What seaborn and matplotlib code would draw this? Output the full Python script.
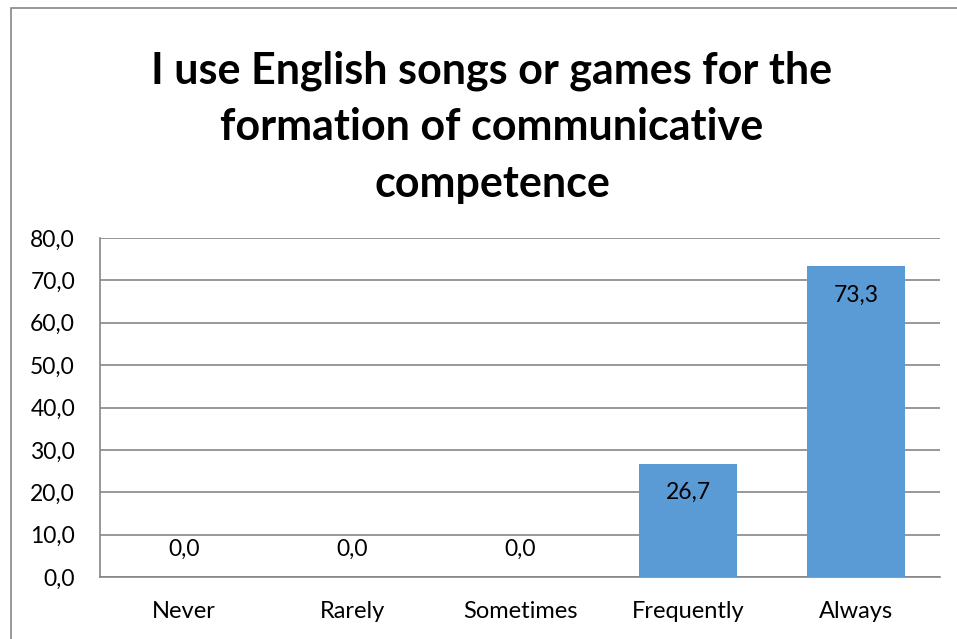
import matplotlib
matplotlib.use("Agg")
import matplotlib.pyplot as plt
import seaborn as sns
import pandas as pd
from matplotlib.patches import Rectangle

categories = ["Never", "Rarely", "Sometimes", "Frequently", "Always"]
values = [0.0, 0.0, 0.0, 26.7, 73.3]
yticks = [0, 10, 20, 30, 40, 50, 60, 70, 80]
title = "I use English songs or games for the\nformation of communicative\ncompetence"

sns.set_theme(style="white")
plt.rcParams['font.family'] = ['Lato', 'DejaVu Sans']

df = pd.DataFrame({"cat": categories, "val": values})

fig = plt.figure(figsize=(9.57, 6.39), dpi=100)
ax = fig.add_axes([100/957, 1-577/639, 840/957, (577-238)/639])

sns.barplot(data=df, x="cat", y="val", color="#5B9BD5", saturation=1,
            width=0.58, ax=ax, zorder=3, linewidth=0)

ax.set_ylim(0, 80)
ax.set_yticks(yticks)
ax.set_yticklabels([f"{v:.1f}".replace(".", ",") for v in yticks], fontsize=16.5, color="#000000")
ax.tick_params(axis="x", labelsize=17, colors="#000000", pad=17, length=0)
ax.tick_params(axis="y", pad=18, length=0)
ax.set_xlabel("")
ax.set_ylabel("")
ax.set_xlim(-0.5, 4.5)
ax.yaxis.grid(True, color="#868686", linewidth=1.2, zorder=0)
ax.set_axisbelow(True)
for s in ["top", "right"]:
    ax.spines[s].set_visible(False)
ax.spines["left"].set_color("#868686")
ax.spines["bottom"].set_color("#868686")
ax.spines["left"].set_linewidth(1.2)
ax.spines["bottom"].set_linewidth(1.2)

for i, v in enumerate(values):
    label = f"{v:.1f}".replace(".", ",")
    if v > 5:
        ax.annotate(label, (i, v), xytext=(0, -13), textcoords="offset points",
                    ha="center", va="top", fontsize=16.5, color="#000000", zorder=5)
    else:
        ax.annotate(label, (i, v), xytext=(0, 12), textcoords="offset points",
                    ha="center", va="bottom", fontsize=16.5, color="#000000", zorder=5)

fig.text(492/957, 1-127/639, title, ha="center", va="center", fontsize=31,
         fontweight="bold", linespacing=1.5, color="#000000")

fig.patches.append(Rectangle((11/957, -0.05), 1.1, 1-8/639+0.05, transform=fig.transFigure,
                             fill=False, edgecolor="#868686", linewidth=1.2))

fig.savefig("out.png", dpi=100)
